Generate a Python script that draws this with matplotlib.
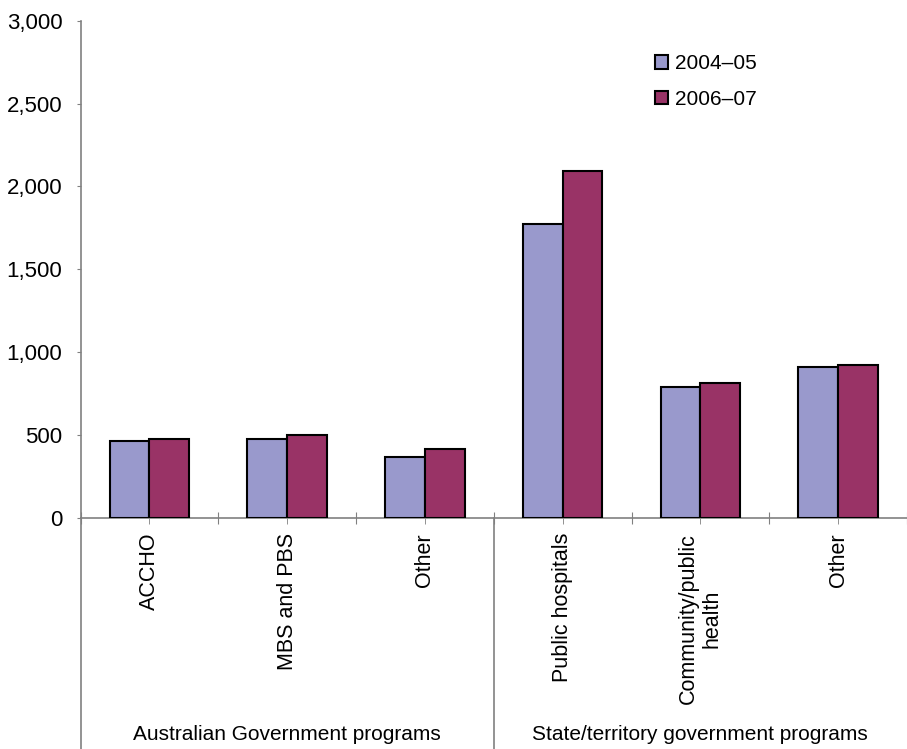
#!/usr/bin/env python3

import matplotlib
matplotlib.use("Agg")
import matplotlib.pyplot as plt
import matplotlib.transforms as transforms
import numpy as np

plt.rcParams['font.family'] = ['Liberation Sans', 'DejaVu Sans']

categories = ["ACCHO", "MBS and PBS", "Other",
              "Public hospitals", "Community/public\nhealth", "Other"]
groups = ["Australian Government programs", "State/territory government programs"]
series = ["2004\u201305", "2006\u201307"]
vals_0405 = [465, 476, 368, 1772, 789, 908]
vals_0607 = [476, 501, 415, 2095, 815, 920]
yticks = [0, 500, 1000, 1500, 2000, 2500, 3000]

COLORS = ["#9999CC", "#993366"]
BARW = 0.288
GRAY = "#808080"
FS = 15

fig = plt.figure(figsize=(9.07, 7.49), dpi=100)
ax = fig.add_axes([80.5 / 907, 231.3 / 749, (907 - 80.5) / 907, 496.8 / 749])

xs = np.arange(len(categories))
for i, (vals, lab) in enumerate(zip([vals_0405, vals_0607], series)):
    ax.bar(xs + (i - 0.5) * BARW, vals, width=BARW, color=COLORS[i],
           edgecolor="black", linewidth=1.5, label=lab, zorder=3)

ax.set_ylim(0, 3000)
ax.set_xlim(-0.5, 5.446)
ax.set_yticks(yticks)
ax.set_yticklabels(["{:,}".format(v) for v in yticks], fontsize=16)

for s in ["top", "right"]:
    ax.spines[s].set_visible(False)
for s in ["left", "bottom"]:
    ax.spines[s].set_color(GRAY)
    ax.spines[s].set_linewidth(1.2)

ax.tick_params(axis="y", direction="out", length=3, color=GRAY, pad=10)
# boundaries crossing, centres pointing down
ax.set_xticks(np.arange(len(categories) + 1) - 0.5)
ax.set_xticklabels([])
ax.tick_params(axis="x", which="major", direction="inout", length=8, color=GRAY)
ax.set_xticks(xs, minor=True)
ax.tick_params(axis="x", which="minor", direction="out", length=4, color=GRAY)

# category labels, rotated
for x, c in zip(xs, categories):
    ax.annotate(c, xy=(x, 0), xycoords=("data", "axes fraction"),
                xytext=(0, -11), textcoords="offset points",
                rotation=90, ha="center", va="top", multialignment="center",
                fontsize=15.5)

# left axis extension and group separator
drop = 231.3 / 496.8
ax.plot([0, 0], [0, -drop], transform=ax.transAxes, color=GRAY,
        lw=1.2, clip_on=False)
trans = transforms.blended_transform_factory(ax.transData, ax.transAxes)
ax.plot([2.5, 2.5], [0, -drop], transform=trans, color=GRAY,
        lw=1.2, clip_on=False)

for gx, g in zip([1, 4], groups):
    ax.text(gx, -(734 - 517.7) / 496.8, g, transform=trans, ha="center",
            va="center", fontsize=FS)

leg = ax.legend(loc="upper left", bbox_to_anchor=(645 / 907, 1 - 44 / 749),
                bbox_transform=fig.transFigure, frameon=False, fontsize=FS,
                handlelength=0.6, handleheight=0.6, handletextpad=0.35,
                labelspacing=0.8, borderpad=0)

plt.savefig("out.png", dpi=100)
